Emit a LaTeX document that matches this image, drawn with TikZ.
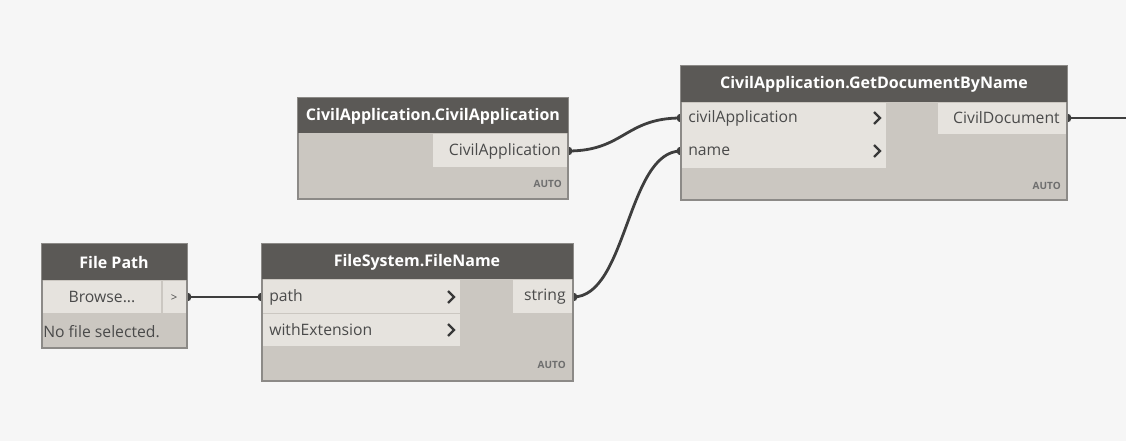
\documentclass[tikz,border=0pt]{standalone}
\usepackage{fontspec}
\usetikzlibrary{calc}
\setmainfont{Open Sans}
\definecolor{bgc}{HTML}{F6F6F6}
\definecolor{headc}{HTML}{5B5956}
\definecolor{bodyc}{HTML}{CBC7C1}
\definecolor{rowc}{HTML}{E6E3DE}
\definecolor{edgec}{HTML}{8C8A87}
\definecolor{wirec}{HTML}{3E3E3E}
\definecolor{txtc}{HTML}{4A4A4A}

\begin{document}
\begin{tikzpicture}[x=0.75pt,y=0.75pt,yscale=-1,xscale=1,
  wire/.style={draw=wirec,line width=2.1pt},
  body/.style={fill=bodyc,draw=edgec,line width=0.8pt},
  head/.style={fill=headc},
  row/.style={fill=rowc},
  title/.style={text=white,font=\fontsize{12}{14}\selectfont\bfseries,inner sep=0.75pt},
  lbl/.style={text=txtc,font=\fontsize{11.8}{14}\selectfont,inner sep=0.75pt},
  autotag/.style={text=txtc!80,font=\fontsize{7.5}{8}\selectfont\bfseries,inner sep=0.75pt,anchor=east},
  chev/.style={draw=wirec!90!black,line width=1.8pt}
]
        %set diagram left start at 0, and has height of 441
        \fill [bgc] (0,0) rectangle (1126,441);
        \useasboundingbox (0,0) rectangle (1126,441);

        % Port coordinates
        \coordinate (fpOut) at (187,297);
        \coordinate (fnPathIn) at (262,297);
        \coordinate (fnStringOut) at (573,297);
        \coordinate (caOut) at (568,151);
        \coordinate (gdAppIn) at (681,118);
        \coordinate (gdNameIn) at (681,151);
        \coordinate (gdDocOut) at (1067,118);
        \coordinate (gdDocEnd) at (1126,118);

        % Wires
        \draw [wire] (fpOut) -- (fnPathIn) ;
        \draw [wire] (caOut) .. controls ($(caOut)+(56,0)$) and ($(gdAppIn)-(56,0)$) .. (gdAppIn) ;
        \draw [wire] (fnStringOut) .. controls ($(fnStringOut)+(54,0)$) and ($(gdNameIn)-(54,0)$) .. (gdNameIn) ;
        \draw [wire] (gdDocOut) -- (gdDocEnd) ;
        \foreach \p in {fpOut,fnPathIn,fnStringOut,caOut,gdAppIn,gdNameIn,gdDocOut}
          \fill [wirec] (\p) circle (4.5) ;

        %Shape: File Path
        \draw [body] (42,244) rectangle (187,348) ;
        \fill [head] (42,244) rectangle (187,280) ;
        \fill [row] (43,281) rectangle (161,313) ;
        \fill [row] (163,281) rectangle (186,313) ;
        % Text Node
        \node [title] (fpTitle) at (114,262) {File Path};
        \node [lbl] (fpBrowse) at (102,297) {Browse...};
        \node [lbl,font=\fontsize{8.5}{9}\selectfont] (fpBtn) at (174,298) {>};
        \node [lbl,anchor=west] (fpNone) at (42,332) {No file selected.};

        %Shape: FileSystem.FileName
        \draw [body] (262,244) rectangle (573,381) ;
        \fill [head] (262,244) rectangle (573,279) ;
        \fill [row] (263,280) rectangle (460,313) ;
        \fill [row] (263,314) rectangle (460,346) ;
        \fill [row] (513,280) rectangle (572,313) ;
        \draw [chev] (448,291) -- (454,297) -- (448,303) ;
        \draw [chev] (448,324) -- (454,330) -- (448,336) ;
        % Text Node
        \node [title] (fnTitle) at (417,262) {FileSystem.FileName};
        \node [lbl,anchor=west] (fnPath) at (268,297) {path};
        \node [lbl,anchor=west] (fnExt) at (268,330) {withExtension};
        \node [lbl,anchor=east] (fnString) at (567,297) {string};
        \node [autotag] (fnAuto) at (567,365) {AUTO};

        %Shape: CivilApplication.CivilApplication
        \draw [body] (298,98) rectangle (568,199) ;
        \fill [head] (298,98) rectangle (568,133) ;
        \fill [row] (433,134) rectangle (567,167) ;
        % Text Node
        \node [title] (caTitle) at (433,116) {CivilApplication.CivilApplication};
        \node [lbl,anchor=east] (caApp) at (562,151) {CivilApplication};
        \node [autotag] (caAuto) at (563,184) {AUTO};

        %Shape: CivilApplication.GetDocumentByName
        \draw [body] (681,66) rectangle (1067,200) ;
        \fill [head] (681,66) rectangle (1067,102) ;
        \fill [row] (682,103) rectangle (886,168) ;
        \fill [row] (938,103) rectangle (1066,134) ;
        \draw [chev] (874,112) -- (880,118) -- (874,124) ;
        \draw [chev] (874,145) -- (880,151) -- (874,157) ;
        % Text Node
        \node [title] (gdTitle) at (874,84) {CivilApplication.GetDocumentByName};
        \node [lbl,anchor=west] (gdApp) at (687,118) {civilApplication};
        \node [lbl,anchor=west] (gdName) at (687,151) {name};
        \node [lbl,anchor=east] (gdDoc) at (1061,118) {CivilDocument};
        \node [autotag] (gdAuto) at (1062,186) {AUTO};

    \end{tikzpicture}
\end{document}
